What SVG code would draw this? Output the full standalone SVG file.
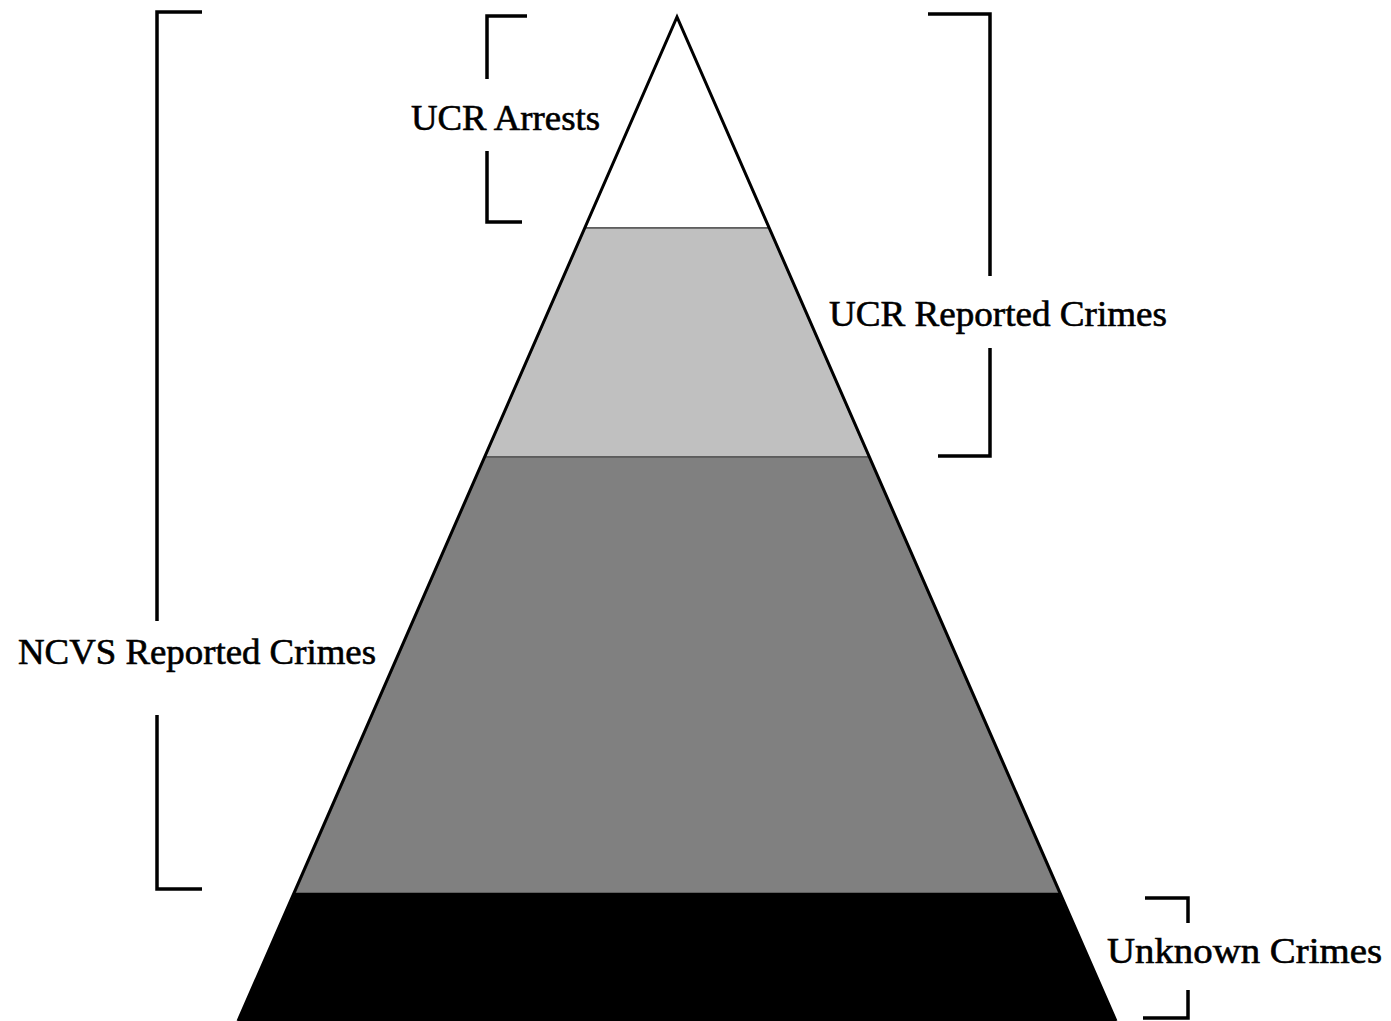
<svg xmlns="http://www.w3.org/2000/svg" width="1391" height="1021" viewBox="0 0 1391 1021">
<style>
.lbl{font-family:"Liberation Serif","Times New Roman",serif;font-size:35px;fill:#000;stroke:#000;stroke-width:0.6}
.br{fill:none;stroke:#000;stroke-width:3.5;stroke-linecap:butt;stroke-linejoin:miter}
.band{stroke:#555;stroke-width:1.5}
</style>
<rect width="1391" height="1021" fill="#fff"/>
<g id="pyramid">
<polygon id="band-arrests" class="band" fill="#ffffff" points="677,17 769,228 585,228"/>
<polygon id="band-ucr" class="band" fill="#c0c0c0" points="585,228 769,228 869,457 485,457"/>
<polygon id="band-ncvs" class="band" fill="#808080" points="485,457 869,457 1059,893 295,893"/>
<polygon id="band-unknown" fill="#000000" points="295,893 1059,893 1116,1021 238,1021"/>
<polyline fill="none" stroke="#000" stroke-width="3" points="238,1021 677,17 1116,1021"/>
</g>
<g id="connectors">
<path class="br" d="M527,16 H487 V79 M487,151 V222 H522"/>
<path class="br" d="M928,14 H990 V276 M990,348 V456 H938"/>
<path class="br" d="M202,12 H157 V621 M157,715 V889 H202"/>
<path class="br" d="M1145,898 H1188 V923 M1188,990 V1018 H1143"/>
</g>
<g id="label-arrests"><text class="lbl" x="411" y="130" textLength="189" lengthAdjust="spacingAndGlyphs">UCR Arrests</text></g>
<g id="label-ucr"><text class="lbl" x="829" y="326" textLength="338" lengthAdjust="spacingAndGlyphs">UCR Reported Crimes</text></g>
<g id="label-ncvs"><text class="lbl" x="18" y="664" textLength="358" lengthAdjust="spacingAndGlyphs">NCVS Reported Crimes</text></g>
<g id="label-unknown"><text class="lbl" x="1107" y="963" textLength="275" lengthAdjust="spacingAndGlyphs">Unknown Crimes</text></g>
</svg>
